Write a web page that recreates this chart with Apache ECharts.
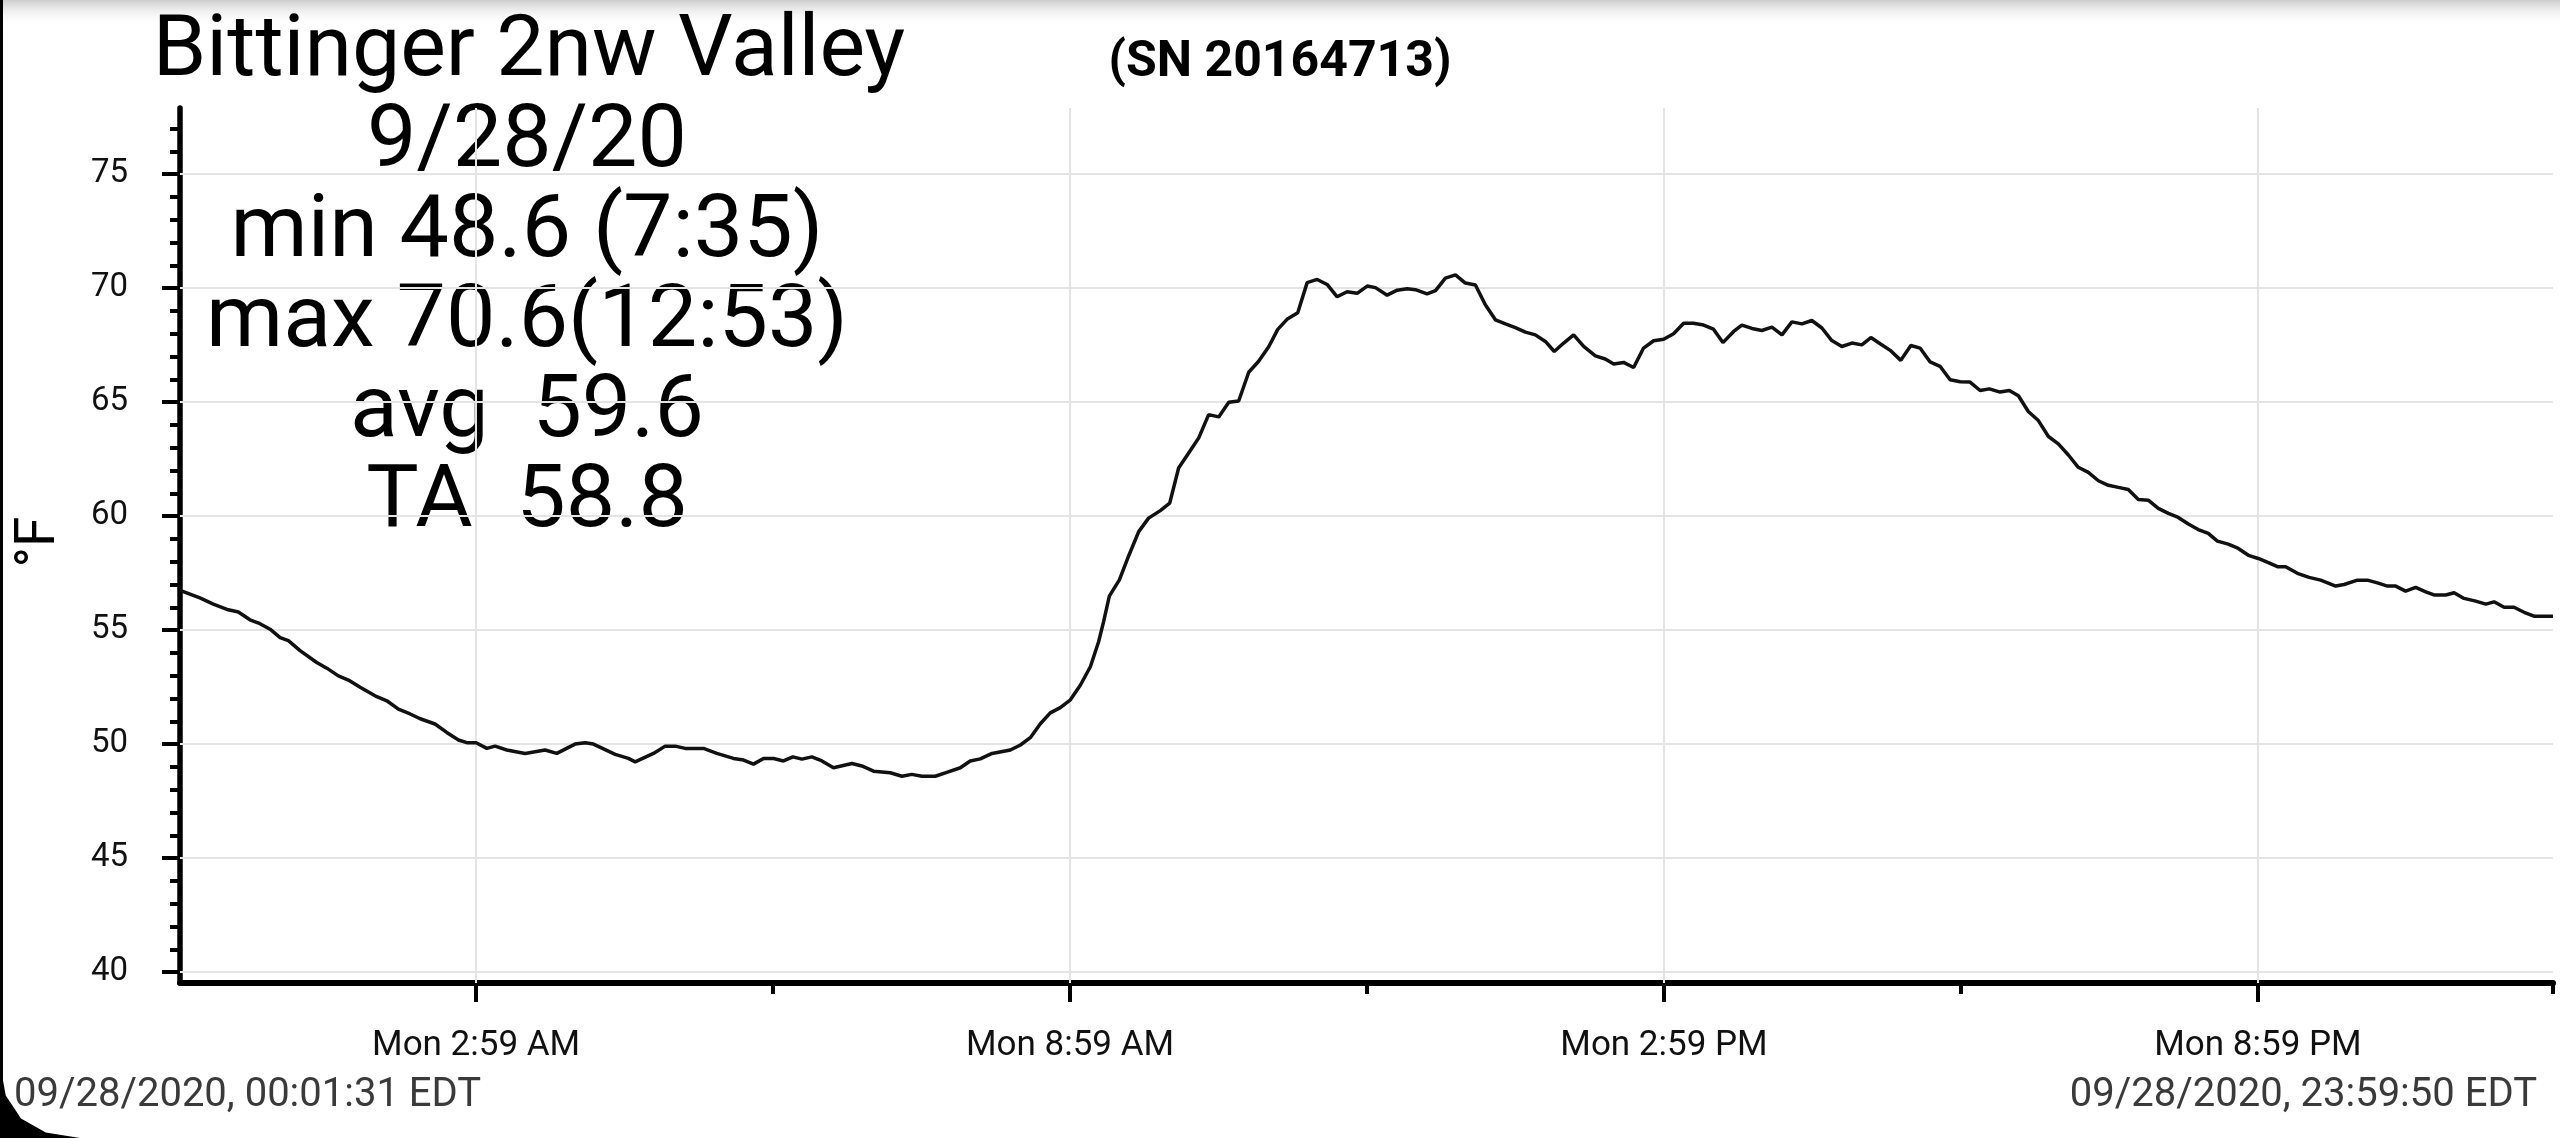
<!DOCTYPE html>
<html><head><meta charset="utf-8">
<script src="https://cdn.jsdelivr.net/npm/echarts@6/dist/echarts.min.js"></script>
<style>html,body{margin:0;padding:0;background:#fff;overflow:hidden}#c{width:2560px;height:1138px}</style>
</head><body><div id="c"></div>
<script>
// ---- text ----
const stationName = "Bittinger 2nw Valley";
const serialLabel = "(SN 20164713)";
const statLines = ["9/28/20", "min 48.6 (7:35)", "max 70.6(12:53)", "avg  59.6", "TA  58.8"];
const yAxisName = "°F";
const startStamp = "09/28/2020, 00:01:31 EDT";
const endStamp = "09/28/2020, 23:59:50 EDT";

// ---- axes (x in minutes after midnight) ----
const xStart = 1.52;
const xEnd = 1439.83;
const xMajorTicks = [181, 541, 901, 1261];
const xMajorLabels = ["Mon 2:59 AM", "Mon 8:59 AM", "Mon 2:59 PM", "Mon 8:59 PM"];
const xMinorTicks = [361, 721, 1081, 1439.83];
const yMin = 39.52;
const yMax = 77.9;
const yMajorTicks = [40, 45, 50, 55, 60, 65, 70, 75];
const yMinorTicks = [40, 41, 42, 43, 44, 45, 46, 47, 48, 49, 50, 51, 52, 53, 54, 55, 56, 57, 58, 59, 60, 61, 62, 63, 64, 65, 66, 67, 68, 69, 70, 71, 72, 73, 74, 75, 76, 77];

// ---- series (minutes after midnight, °F) ----
const timeMin = [
  1.5, 13.6, 21.7, 30.8, 36.9, 43.9, 50, 56.1, 62.2, 67.2, 74.3, 84.4, 90.5, 97.5, 103.6, 110.7, 120.8, 126.9, 133.9, 141,
  147.1, 156.1, 163.2, 170.3, 175.4, 181, 187.5, 192.5, 199.6, 210.7, 222.8, 229.9, 241, 247.1, 252.1, 265.3, 273.3,
  277.4, 288.5, 295.6, 301.7, 307.7, 318.8, 326.9, 337, 343.1, 349.1, 355.2, 361.3, 367.3, 373, 378.5, 384.5, 390.6,
  397.6, 408.8, 414.8, 421.9, 432, 439.1, 445.1, 451.2, 459.3, 465.4, 474.5, 480.5, 486.6, 493.7, 504.8, 510.9, 516.9,
  523, 529, 535.1, 541.2, 547.2, 553.3, 558.3, 561.3, 564.8, 570.9, 576.5, 582.6, 588.6, 595.7, 601.4, 606.8, 612.9,
  619, 625, 631.1, 637.2, 643.2, 649.3, 655.3, 661.4, 666.9, 672.5, 679, 684.7, 690.8, 696.8, 702.9, 708.9, 715, 721.1,
  726.1, 733.2, 739.3, 745.3,
  750.3, 757.4, 762.5, 768.5, 774.6, 780.6, 786.7, 792.7, 798.8, 804.9, 810.9, 817, 823, 829.1, 834.5, 840.2, 846.2,
  852.3, 859.4, 865.4, 870.5, 876.5, 882.6, 888.6, 894.7, 900.8, 906.8, 912.9, 918.9, 925, 931, 936.7, 943.2, 948.2,
  954.3, 960.3, 966.4, 972.5, 978.5, 984.6, 990.6, 996.7, 1002.7, 1008.8, 1014.9, 1020.9, 1026.4, 1032, 1038.1,
  1044.5, 1050.6, 1056.2, 1062.3, 1068.3, 1074.4, 1080.5, 1086.5, 1092.6, 1098.2, 1104.7, 1110.3, 1115.8, 1121.8,
  1127.9, 1134, 1140, 1146.1, 1152.1, 1158.2, 1164.3, 1170.3, 1176.4, 1182.4, 1188.5, 1194.5, 1200.6, 1206.7, 1212.7,
  1218.8, 1224.8, 1230.9, 1236.4, 1243, 1249.1, 1255.2, 1261.2, 1267.3,
  1272.8, 1277.8, 1284.9, 1292, 1299, 1308.1, 1313.2, 1321.3, 1327.3, 1333.4, 1339.5, 1344.5, 1350.5, 1356.6, 1362.7,
  1367.7, 1374.8, 1379.9, 1385.9, 1393, 1399.1, 1404.1, 1410.2, 1416.2, 1422.3, 1428.3, 1439.8
];
const tempF = [
  56.74, 56.41, 56.14, 55.89, 55.79, 55.45, 55.28, 55.04, 54.67, 54.54, 54.10, 53.58, 53.33, 52.99, 52.81, 52.49, 52.08, 51.90, 51.53, 51.32,
  51.11, 50.88, 50.51, 50.18, 50.06, 50.06, 49.81, 49.91, 49.74, 49.59, 49.74, 49.59, 50.00, 50.06, 50.00, 49.55, 49.37,
  49.22, 49.59, 49.91, 49.91, 49.81, 49.81, 49.59, 49.37, 49.30, 49.12, 49.37, 49.37, 49.26, 49.44, 49.34, 49.44, 49.26,
  48.96, 49.15, 49.04, 48.81, 48.74, 48.59, 48.67, 48.59, 48.59, 48.74, 48.96, 49.26, 49.35, 49.59, 49.74, 49.96, 50.28,
  50.89, 51.37, 51.60, 51.94, 52.58, 53.39, 54.49, 55.36, 56.49, 57.20, 58.25, 59.32, 59.91, 60.24, 60.57, 62.11, 62.77,
  63.43, 64.45, 64.35, 64.99, 65.05, 66.31, 66.79, 67.43, 68.19, 68.63, 68.92, 70.24, 70.38, 70.16, 69.62, 69.84, 69.77, 70.09,
  70.02, 69.69, 69.91, 69.97,
  69.93, 69.75, 69.89, 70.44, 70.58, 70.22, 70.14, 69.27, 68.61, 68.43, 68.27, 68.07, 67.95, 67.66, 67.22, 67.59, 67.95,
  67.44, 67.03, 66.89, 66.67, 66.74, 66.52, 67.37, 67.69, 67.76, 68.00, 68.46, 68.46, 68.38, 68.20, 67.61, 68.10, 68.38,
  68.23, 68.14, 68.29, 67.95, 68.52, 68.43, 68.58, 68.25, 67.70, 67.44, 67.59, 67.51, 67.83, 67.56, 67.27,
  66.83, 67.48, 67.37, 66.76, 66.57, 65.98, 65.89, 65.88, 65.51, 65.58, 65.44, 65.51, 65.28, 64.59,
  64.19, 63.49, 63.17, 62.68, 62.14, 61.92, 61.55, 61.35, 61.26, 61.17, 60.73, 60.70, 60.34, 60.12, 59.94,
  59.65, 59.41, 59.24, 58.90, 58.77, 58.58, 58.28, 58.14, 57.96,
  57.78, 57.78, 57.49, 57.31, 57.19, 56.93, 57.00, 57.19, 57.19, 57.07, 56.93, 56.93, 56.71, 56.87, 56.68,
  56.54, 56.54, 56.64, 56.39, 56.27, 56.14, 56.24, 56.00, 56.00, 55.78, 55.61, 55.61
];

const FONT = 'Roboto, "Noto Sans", sans-serif';
const seriesData = timeMin.map((t, i) => [t, tempF[i]]);
const gridLines = yMajorTicks.map(v => ({ yAxis: v })).concat(xMajorTicks.map(v => ({ xAxis: v })));

const chart = echarts.init(document.getElementById('c'), null, { renderer: 'canvas' });
chart.setOption({
  animation: false,
  backgroundColor: '#ffffff',
  grid: { left: 180, right: 7, top: 108, bottom: 155, containLabel: false },
  xAxis: [
    {
      type: 'value', min: xStart, max: xEnd, position: 'bottom',
      axisLine: { show: true, onZero: false, lineStyle: { color: '#000', width: 6 } },
      axisTick: { show: true, customValues: xMajorTicks, length: 19, lineStyle: { color: '#000', width: 4 } },
      axisLabel: {
        show: true, customValues: xMajorTicks, margin: 46, fontSize: 35, color: '#111', fontFamily: FONT,
        formatter: v => { const i = xMajorTicks.indexOf(v); return i >= 0 ? xMajorLabels[i] : ''; }
      },
      splitLine: { show: false }
    },
    {
      type: 'value', min: xStart, max: xEnd, position: 'bottom',
      axisLine: { show: false, onZero: false },
      axisTick: { show: true, customValues: xMinorTicks, length: 11, lineStyle: { color: '#000', width: 4 } },
      axisLabel: { show: false },
      splitLine: { show: false }
    }
  ],
  yAxis: [
    {
      type: 'value', min: yMin, max: yMax, position: 'left',
      axisLine: { show: true, onZero: false, lineStyle: { color: '#000', width: 5.5 } },
      axisTick: { show: true, customValues: yMajorTicks, length: 18, lineStyle: { color: '#000', width: 4 } },
      axisLabel: { show: true, customValues: yMajorTicks, margin: 52, fontSize: 33, color: '#111', fontFamily: FONT },
      splitLine: { show: false }
    },
    {
      type: 'value', min: yMin, max: yMax, position: 'left',
      axisLine: { show: false, onZero: false },
      axisTick: { show: true, customValues: yMinorTicks, length: 10, lineStyle: { color: '#000', width: 4 } },
      axisLabel: { show: false },
      splitLine: { show: false }
    }
  ],
  series: [
    {
      type: 'line', xAxisIndex: 0, yAxisIndex: 0, data: seriesData,
      showSymbol: false, symbol: 'none', smooth: false, z: 3,
      lineStyle: { color: '#111', width: 3.5 },
      markLine: {
        silent: true, symbol: 'none', z: 1, animation: false,
        label: { show: false },
        lineStyle: { color: '#e4e4e4', width: 2, type: 'solid' },
        emphasis: { disabled: true },
        data: gridLines
      }
    }
  ],
  graphic: [
    { type: 'rect', shape: { x: 0, y: 0, width: 2560, height: 26 }, silent: true,
      style: { fill: { type: 'linear', x: 0, y: 0, x2: 0, y2: 1, colorStops: [{ offset: 0, color: '#cdcdcd' }, { offset: 1, color: 'rgba(255,255,255,0)' }] } } },
    { type: 'rect', shape: { x: 0, y: 0, width: 3, height: 1138 }, style: { fill: '#000' }, silent: true },
    { type: 'polygon', shape: { points: [[0, 1064], [5.75, 1095.6], [21, 1118.5], [45.75, 1132.6], [80, 1138], [0, 1138]] }, style: { fill: '#000' }, silent: true },
    { type: 'text', x: 529, y: 53, silent: true,
      style: { text: stationName, fontSize: 86, fontFamily: FONT, fill: '#000', align: 'center', verticalAlign: 'middle' } },
    { type: 'text', x: 1280, y: 63, silent: true,
      style: { text: serialLabel, fontSize: 50, fontWeight: 'bold', fontFamily: FONT, fill: '#000', align: 'center', verticalAlign: 'middle' } },
    { type: 'text', x: 527, y: 99, silent: true,
      style: { text: statLines.join('\n'), fontSize: 88, lineHeight: 90, fontFamily: FONT, fill: '#000', align: 'center', verticalAlign: 'top' } },
    { type: 'text', x: 40, y: 542, rotation: Math.PI / 2, silent: true,
      style: { text: yAxisName, fontSize: 55, fontFamily: FONT, fill: '#000', align: 'center', verticalAlign: 'middle' } },
    { type: 'text', x: 14, y: 1096, silent: true,
      style: { text: startStamp, fontSize: 40, fontFamily: FONT, fill: '#3a3a3a', align: 'left', verticalAlign: 'middle' } },
    { type: 'text', x: 2537, y: 1096, silent: true,
      style: { text: endStamp, fontSize: 40, fontFamily: FONT, fill: '#3a3a3a', align: 'right', verticalAlign: 'middle' } }
  ]
});
</script>
</body></html>
